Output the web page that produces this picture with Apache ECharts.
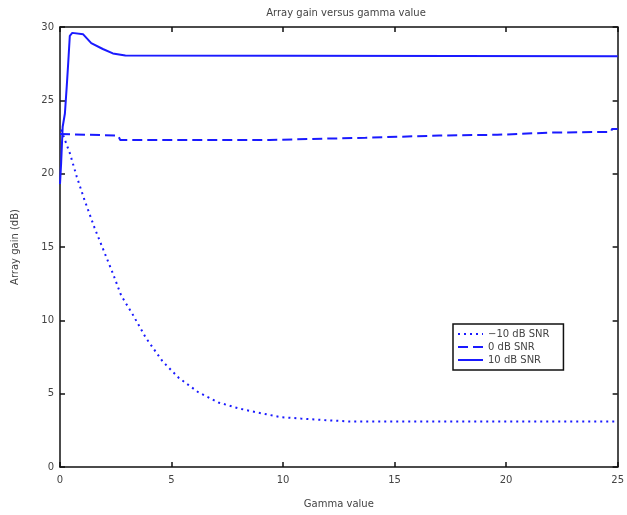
<!DOCTYPE html>
<html><head><meta charset="utf-8">
<script src="https://cdn.jsdelivr.net/npm/echarts@6/dist/echarts.min.js"></script>
<style>html,body{margin:0;padding:0;background:#fff}#c{width:627px;height:515px}</style>
</head><body><div id="c"></div>
<script>
var titleText = 'Array gain versus gamma value';
var xName = 'Gamma value';
var yName = 'Array gain (dB)';
var seriesNames = ['\u221210 dB SNR', '0 dB SNR', '10 dB SNR'];
var xTicks = [0, 5, 10, 15, 20, 25];
var yTicks = [0, 5, 10, 15, 20, 25, 30];

var snrM10 = [[0.05,23.0],[0.44,21.4],[0.75,19.8],[1.1,18.2],[1.55,16.3],[1.92,14.9],[2.37,13.2],[2.74,11.7],[3.26,10.4],[3.85,8.8],[4.6,7.2],[5.33,6.07],[6.2,5.1],[7.1,4.4],[8.0,4.0],[8.9,3.7],[9.9,3.4],[10.8,3.3],[11.85,3.2],[13.0,3.1],[25,3.1]];
var snr0 = [[0,22.7],[2.6,22.6],[2.7,22.3],[9.4,22.3],[9.45,22.4],[13.7,22.45],[13.75,22.55],[17,22.6],[19.6,22.65],[19.65,22.75],[22,22.8],[24.7,22.85],[24.75,23.05],[25,23.05]];
var snr10 = [[0,19.3],[0.05,20.7],[0.12,23.2],[0.22,24.1],[0.3,25.9],[0.37,27.6],[0.44,29.4],[0.55,29.6],[1.04,29.5],[1.4,28.9],[1.92,28.5],[2.37,28.2],[2.93,28.05],[3.0,28.0],[25,28.0]];

var blue = '#1a1aff';
var axisCol = '#111';
var labelCol = '#444';
var font = 'DejaVu Sans, sans-serif';

var chart = echarts.init(document.getElementById('c'));
function axisCommon(extra){
  var o = {
    axisLine:{show:true,onZero:false,lineStyle:{color:axisCol,width:1.5}},
    axisTick:{show:true,inside:true,length:5,lineStyle:{color:axisCol,width:1.5}},
    splitLine:{show:false},
    axisLabel:{color:labelCol,fontSize:10,fontFamily:font}
  };
  for (var k in extra) o[k]=extra[k];
  return o;
}
chart.setOption({
  animation:false,
  backgroundColor:'#fff',
  title:{text:titleText,left:341,top:3,textAlign:'center',
    textStyle:{fontSize:10,fontWeight:'normal',color:labelCol,fontFamily:font}},
  grid:{left:60,top:27,right:4,bottom:48,containLabel:false},
  legend:{orient:'vertical',left:453,top:324,itemGap:3,itemWidth:25,itemHeight:10,
    padding:[5,14,5,4],borderColor:'#111',borderWidth:1.5,backgroundColor:'#fff',
    itemStyle:{opacity:0},
    textStyle:{fontSize:10,color:labelCol,fontFamily:font},
    data:seriesNames},
  xAxis:[axisCommon({type:'value',min:0,max:25,interval:5,name:xName,nameLocation:'middle',nameGap:32,
      nameTextStyle:{fontSize:10,color:labelCol,fontFamily:font},
      axisLabel:{color:labelCol,fontSize:10,fontFamily:font,margin:8,
        formatter:function(v){return xTicks.indexOf(v)>=0?String(v):'';}}}),
    axisCommon({type:'value',min:0,max:25,interval:5,position:'top',axisLabel:{show:false}})],
  yAxis:[axisCommon({type:'value',min:0,max:30,interval:5,name:yName,nameLocation:'middle',nameGap:40,
      nameTextStyle:{fontSize:10,color:labelCol,fontFamily:font},
      axisLabel:{color:labelCol,fontSize:10,fontFamily:font,margin:6,
        formatter:function(v){return yTicks.indexOf(v)>=0?String(v):'';}}}),
    axisCommon({type:'value',min:0,max:30,interval:5,position:'right',axisLabel:{show:false}})],
  series:[
    {name:seriesNames[0],type:'line',data:snrM10,symbol:'none',
      lineStyle:{color:blue,width:2,type:[2,4]},itemStyle:{color:blue}},
    {name:seriesNames[1],type:'line',data:snr0,symbol:'none',
      lineStyle:{color:blue,width:2,type:[10,5]},itemStyle:{color:blue}},
    {name:seriesNames[2],type:'line',data:snr10,symbol:'none',
      lineStyle:{color:blue,width:2,type:'solid'},itemStyle:{color:blue}}
  ]
});
</script></body></html>
